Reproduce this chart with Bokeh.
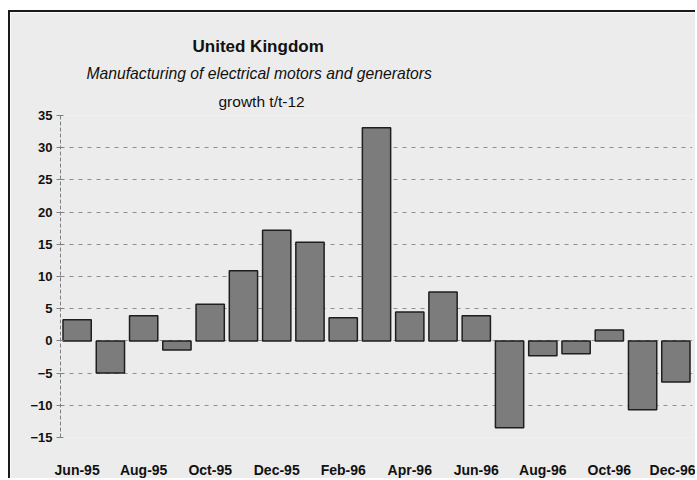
from bokeh.plotting import figure
from bokeh.models import ColumnDataSource, FixedTicker, Title, Range1d
from bokeh.embed import file_html
from bokeh.resources import INLINE

months = ["Jun-95", "Jul-95", "Aug-95", "Sep-95", "Oct-95", "Nov-95", "Dec-95",
          "Jan-96", "Feb-96", "Mar-96", "Apr-96", "May-96", "Jun-96", "Jul-96",
          "Aug-96", "Sep-96", "Oct-96", "Nov-96", "Dec-96"]
growth = [3.3, -5.0, 3.9, -1.4, 5.7, 10.9, 17.2, 15.3, 3.6, 33.1, 4.5, 7.6, 3.9,
          -13.5, -2.3, -2.0, 1.7, -10.7, -6.4]
y_ticks = [-15, -10, -5, 0, 5, 10, 15, 20, 25, 30, 35]

title_text = "United Kingdom"
subtitle_text = "Manufacturing of electrical motors and generators"
subtitle2_text = "growth t/t-12"

idx = list(range(len(months)))
source = ColumnDataSource(data=dict(x=idx, top=growth, month=months))

BG = "#ececec"

p = figure(width=687, height=468, output_backend="svg", toolbar_location=None,
           x_range=Range1d(-0.5, len(months) - 0.5), y_range=Range1d(-15, 35),
           min_border_left=50, min_border_right=5, min_border_top=103,
           min_border_bottom=43)
p.styles = {"margin-left": "8px", "margin-top": "10px",
            "border-left": "2px solid #1a1a1a", "border-top": "2px solid #1a1a1a"}

p.background_fill_color = BG
p.border_fill_color = BG
p.outline_line_color = None

p.vbar(x="x", top="top", bottom=0, width=0.85, source=source,
       fill_color="#7c7c7c", line_color="#1e1e1e", line_width=1.5)

# y axis
p.yaxis.ticker = FixedTicker(ticks=y_ticks)
p.yaxis.axis_line_color = "#808080"
p.yaxis.axis_line_dash = "4 2"
p.yaxis.major_tick_line_color = "#808080"
p.yaxis.major_tick_in = 3
p.yaxis.major_tick_out = 4
p.yaxis.minor_tick_line_color = None
p.yaxis.major_label_text_font = "Liberation Sans"
p.yaxis.major_label_text_font_style = "bold"
p.yaxis.major_label_text_font_size = "13px"
p.yaxis.major_label_text_color = "#111111"
p.yaxis.major_label_standoff = 4

# x axis
p.xaxis.ticker = FixedTicker(ticks=idx[::2])
p.xaxis.major_label_overrides = {i: m for i, m in zip(idx, months)}
p.xaxis.axis_line_color = None
p.xaxis.major_tick_line_color = None
p.xaxis.minor_tick_line_color = None
p.xaxis.major_label_text_font = "Liberation Sans"
p.xaxis.major_label_text_font_style = "bold"
p.xaxis.major_label_text_font_size = "14px"
p.xaxis.major_label_text_color = "#111111"
p.xaxis.major_label_standoff = 18

# grid
p.xgrid.grid_line_color = None
p.ygrid.ticker = FixedTicker(ticks=y_ticks)
p.ygrid.grid_line_color = "#8f8f8f"
p.ygrid.grid_line_dash = "4 5"
p.ygrid.grid_line_width = 1

# titles: main title outermost, added titles stack outward from the frame
p.title.text = title_text
p.title.align = "left"
p.title.offset = 132
p.title.standoff = 8
p.title.text_font = "Liberation Sans"
p.title.text_font_size = "17px"
p.title.text_font_style = "bold"
p.title.text_color = "#111111"

p.add_layout(Title(text=subtitle2_text, align="left", offset=158, standoff=11,
                   text_font="Liberation Sans", text_font_size="15.5px",
                   text_font_style="normal", text_color="#111111"), "above")
p.add_layout(Title(text=subtitle_text, align="left", offset=26, standoff=7,
                   text_font="Liberation Sans", text_font_size="15.7px",
                   text_font_style="italic", text_color="#111111"), "above")

open("out.html", "w").write(file_html(p, INLINE))
